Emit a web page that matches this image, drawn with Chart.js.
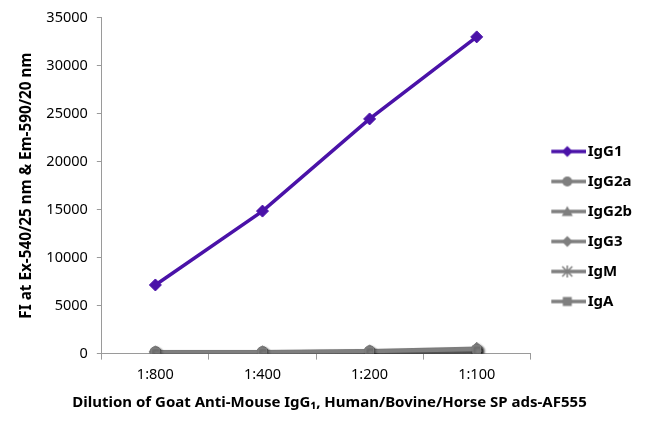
<!DOCTYPE html>
<html>
<head>
<meta charset="utf-8">
<script src="https://cdn.jsdelivr.net/npm/chart.js@4.4.1/dist/chart.umd.min.js"></script>
<style>
html,body{margin:0;padding:0;background:#fff;}
#wrap{width:650px;height:429px;position:relative;}
</style>
</head>
<body>
<div id="wrap"><canvas id="c"></canvas></div>
<script>
const categories = ['1:800', '1:400', '1:200', '1:100'];
const igG1 = [7150, 14850, 24450, 33000];
const igG2a = [160, 170, 240, 400];
const igG2b = [130, 150, 210, 360];
const igG3 = [190, 200, 290, 560];
const igM = [100, 110, 160, 280];
const igA = [140, 150, 220, 420];
const yTitle = 'FI at Ex-540/25 nm & Em-590/20 nm';
const xTitle = 'Dilution of Goat Anti-Mouse IgG\u2081, Human/Bovine/Horse SP ads-AF555';

const purple = '#4a12a8';
const gray = '#7f7f7f';
const FONT = "'Noto Sans', 'Open Sans', sans-serif";

function legendIcon(color, style) {
  const W = 47, H = 14, cx = 28, cy = 7;
  const c = document.createElement('canvas');
  c.width = W; c.height = H;
  const x = c.getContext('2d');
  x.strokeStyle = color; x.lineWidth = 3.5;
  x.beginPath(); x.moveTo(12, cy); x.lineTo(W, cy); x.stroke();
  x.fillStyle = color;
  x.beginPath();
  if (style === 'rectRot') { x.moveTo(cx,cy-5.5); x.lineTo(cx+5.5,cy); x.lineTo(cx,cy+5.5); x.lineTo(cx-5.5,cy); x.closePath(); x.fill(); }
  else if (style === 'circle') { x.arc(cx,cy,5,0,Math.PI*2); x.fill(); }
  else if (style === 'triangle') { x.moveTo(cx,cy-5.5); x.lineTo(cx+5.5,cy+4.5); x.lineTo(cx-5.5,cy+4.5); x.closePath(); x.fill(); }
  else if (style === 'rect') { x.rect(cx-4.5,cy-4.5,9,9); x.fill(); }
  else if (style === 'star') { x.lineWidth=1.5; x.moveTo(cx-5,cy-5); x.lineTo(cx+5,cy+5); x.moveTo(cx+5,cy-5); x.lineTo(cx-5,cy+5); x.moveTo(cx,cy-6); x.lineTo(cx,cy+6); x.stroke(); }
  return c;
}

function ds(label, data, color, style, order) {
  return {
    label, data,
    borderColor: color, backgroundColor: color,
    borderWidth: 3.5,
    pointStyle: style, pointRadius: style === 'rectRot' ? 6 : 5.5,
    pointBorderColor: color, pointBackgroundColor: color,
    pointBorderWidth: style === 'star' ? 2 : 1,
    tension: 0, order,
    legendIcon: legendIcon(color, style)
  };
}

const shadowPlugin = {
  id: 'shadow',
  beforeDatasetDraw(chart, args) {
    const ctx = chart.ctx;
    ctx.save();
    if (args.index > 0) {
      ctx.shadowColor = 'rgba(0,0,0,0.45)';
      ctx.shadowBlur = 3;
      ctx.shadowOffsetX = 1.5;
      ctx.shadowOffsetY = 2;
    }
  },
  afterDatasetDraw(chart) { chart.ctx.restore(); }
};

new Chart(document.getElementById('c'), {
  type: 'line',
  data: {
    labels: categories,
    datasets: [
      ds('IgG1', igG1, purple, 'rectRot', 0),
      ds('IgG2a', igG2a, gray, 'circle', 5),
      ds('IgG2b', igG2b, gray, 'triangle', 4),
      ds('IgG3', igG3, gray, 'rectRot', 3),
      ds('IgM', igM, gray, 'star', 2),
      ds('IgA', igA, gray, 'rect', 1)
    ]
  },
  plugins: [shadowPlugin],
  options: {
    responsive: true, maintainAspectRatio: false, animation: false,
    devicePixelRatio: 1,
    layout: {padding: {top: 17, right: 8, bottom: 0, left: 17}},
    plugins: {
      tooltip: {enabled: false},
      title: {
        display: true,
        position: 'bottom',
        align: 'center',
        text: xTitle,
        color: '#000',
        font: {family: FONT, size: 15, weight: 'bold'},
        padding: {top: 3, bottom: 17}
      },
      legend: {
        position: 'right',
        align: 'center',
        title: {display: true, text: ' ', font: {size: 5}, padding: {top: 1, bottom: 0}},
        labels: {
          usePointStyle: true,
          pointStyleWidth: 35,
          padding: 15,
          color: '#000',
          font: {family: FONT, size: 15, weight: 'bold'},
          generateLabels(chart) {
            return chart.data.datasets.map((d, i) => ({
              text: d.label, pointStyle: d.legendIcon, datasetIndex: i,
              fillStyle: d.borderColor, strokeStyle: d.borderColor, lineWidth: 0, hidden: false, fontColor: '#000'
            }));
          }
        }
      }
    },
    scales: {
      x: {
        offset: true,
        grid: {display: true, drawOnChartArea: false, offset: true, tickLength: 6, color: '#9a9a9a', lineWidth: 1},
        border: {color: '#9a9a9a', width: 1},
        ticks: {color: '#000', font: {family: FONT, size: 14.5}, padding: 7},
        title: {display: false}
      },
      y: {
        min: 0, max: 35000,
        ticks: {stepSize: 5000, color: '#000', font: {family: FONT, size: 14.5}, padding: 9, callback: v => String(v)},
        grid: {display: true, drawOnChartArea: false, tickLength: 5, color: '#9a9a9a'},
        border: {color: '#9a9a9a', width: 1},
        title: {display: true, text: yTitle, color: '#000', font: {family: FONT, size: 15.3, weight: 'bold'}, padding: {top: 0, bottom: 2}}
      }
    }
  }
});
</script>
</body>
</html>
